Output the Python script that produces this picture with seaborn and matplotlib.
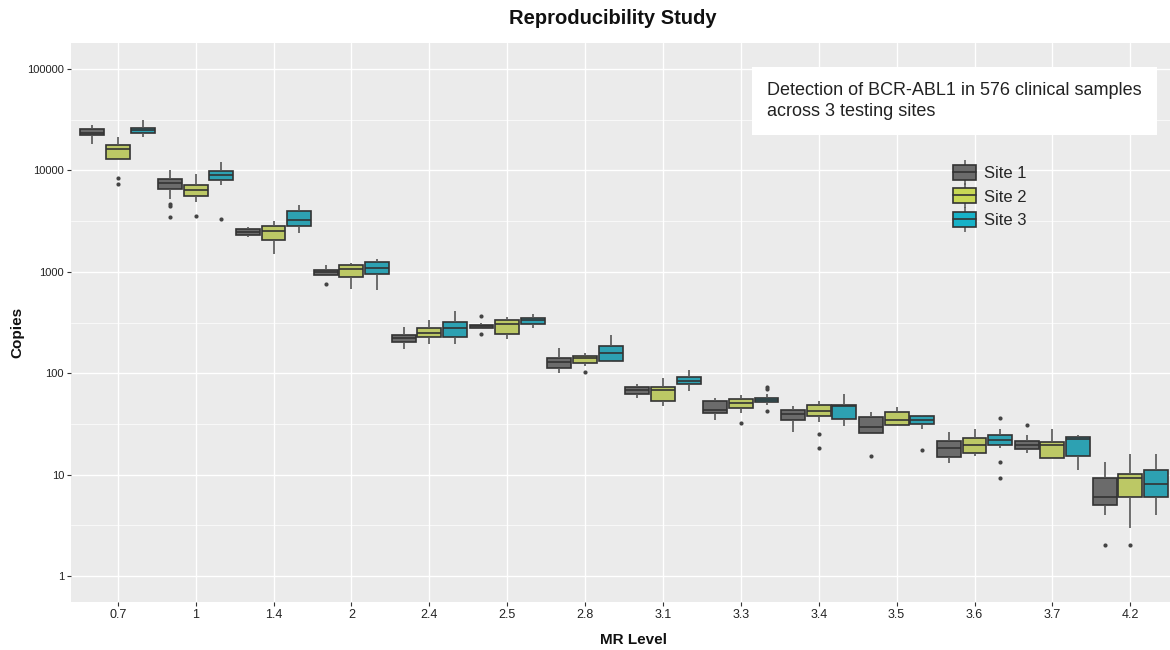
import numpy as np
import pandas as pd
import seaborn as sns
import matplotlib.pyplot as plt
from matplotlib.patches import Patch
from matplotlib.lines import Line2D

# MR levels on the x axis and the three testing sites
mr_levels = ['0.7', '1', '1.4', '2', '2.4', '2.5', '2.8', '3.1', '3.3', '3.4', '3.5', '3.6', '3.7', '4.2']
sites = ['Site 1', 'Site 2', 'Site 3']
site_colors = ['#6b6b6b', '#c8d855', '#17b2c8']

# Box summaries (copies): lower whisker, q1, median, q3, upper whisker
site1_lo  = [18300, 5220, 2220, 920, 175, 270, 101, 56.5, 34.3, 26.5, 25.8, 13.0, 16.4, 4.0]
site1_q1  = [22100, 6590, 2290, 932, 203, 278, 113, 62.3, 40.8, 34.5, 25.8, 15.0, 17.7, 4.97]
site1_med = [23600, 7490, 2490, 998, 220, 291, 128, 67.8, 43.4, 39.3, 29.3, 18.5, 19.8, 5.95]
site1_q3  = [25600, 8310, 2640, 1050, 238, 302, 142, 72.5, 52.8, 43.7, 37.3, 21.3, 21.5, 9.2]
site1_hi  = [28100, 10100, 2790, 1180, 287, 310, 179, 79.0, 57.4, 47.1, 41.8, 26.3, 24.4, 13.2]

site2_lo  = [13000, 4910, 1500, 679, 195, 215, 117, 47.4, 40.2, 32.8, 30.6, 15.3, 14.4, 3.0]
site2_q1  = [13000, 5580, 2040, 891, 229, 245, 126, 53.6, 45.1, 37.6, 30.6, 16.4, 14.7, 5.95]
site2_med = [16300, 6440, 2500, 1060, 248, 307, 142, 67.8, 51.3, 42.8, 34.8, 19.6, 19.5, 9.2]
site2_q3  = [17600, 7160, 2850, 1160, 282, 334, 147, 73.7, 56.1, 48.5, 41.1, 23.0, 21.0, 10.1]
site2_hi  = [21100, 9270, 3140, 1210, 331, 357, 159, 88.9, 61.4, 53.2, 46.8, 28.0, 28.4, 16.1]

site3_lo  = [21400, 7100, 2420, 668, 192, 282, 128, 66.7, 48.2, 29.9, 28.4, 18.5, 11.0, 4.0]
site3_q1  = [23300, 8070, 2850, 946, 230, 309, 132, 77.6, 52.0, 35.1, 31.8, 19.5, 15.4, 5.95]
site3_med = [25100, 9060, 3270, 1100, 276, 334, 159, 84.4, 54.8, 47.0, 34.3, 21.8, 22.3, 8.05]
site3_q3  = [26200, 9770, 4000, 1260, 321, 352, 185, 91.6, 57.4, 48.5, 37.6, 24.6, 23.3, 11.0]
site3_hi  = [31500, 12100, 4520, 1350, 408, 385, 239, 108, 61.8, 62.3, 39.0, 28.0, 24.8, 16.1]

# Outlying samples
out_mr   = ['0.7', '0.7', '1', '1', '1', '1', '1', '2', '2.5', '2.5', '2.8', '3.3', '3.3', '3.3', '3.3',
            '3.4', '3.4', '3.5', '3.5', '3.6', '3.6', '3.6', '3.7', '4.2', '4.2']
out_site = ['Site 2', 'Site 2', 'Site 1', 'Site 1', 'Site 1', 'Site 2', 'Site 3', 'Site 1', 'Site 1', 'Site 1',
            'Site 2', 'Site 2', 'Site 3', 'Site 3', 'Site 3', 'Site 2', 'Site 2', 'Site 1', 'Site 3', 'Site 3',
            'Site 3', 'Site 3', 'Site 1', 'Site 1', 'Site 2']
out_val  = [8500, 7330, 4660, 4450, 3470, 3550, 3340, 760, 368, 243, 103, 32.6, 73.7, 69.3, 42.4,
            25.4, 18.5, 15.1, 17.5, 36.5, 13.2, 9.2, 31.1, 2.02, 2.02]

y_ticks = [1, 10, 100, 1000, 10000, 100000]

sns.set_theme(style='darkgrid', rc={
    'axes.facecolor': '#EBEBEB',
    'grid.color': 'white',
    'grid.linewidth': 1.0,
})
plt.rcParams['font.family'] = ['Liberation Sans', 'DejaVu Sans']

# Long table: each box is built from its five summary numbers
stats = {
    'Site 1': [site1_lo, site1_q1, site1_med, site1_q3, site1_hi],
    'Site 2': [site2_lo, site2_q1, site2_med, site2_q3, site2_hi],
    'Site 3': [site3_lo, site3_q1, site3_med, site3_q3, site3_hi],
}
rows = []
for site in sites:
    for k, mr in enumerate(mr_levels):
        for col in stats[site]:
            rows.append({'MR Level': mr, 'Site': site, 'Copies': col[k]})
df = pd.DataFrame(rows)

fig = plt.figure(figsize=(11.7, 6.5), dpi=100)
ax = fig.add_axes([71 / 1170, 1 - 602 / 650, (1170 - 71) / 1170, (602 - 43) / 650])

box_width = 0.99
sns.boxplot(data=df, x='MR Level', y='Copies', hue='Site', order=mr_levels, hue_order=sites,
            palette=site_colors, width=box_width, gap=0.07, whis=np.inf, showfliers=False,
            log_scale=True, linecolor='#333333', linewidth=1.2, legend=False, ax=ax,
            whiskerprops={'color': '#555555'}, capprops={'visible': False},
            medianprops={'color': '#333333'})

# Outlier dots, dodged like the boxes
step = box_width / len(sites)
out_x = [mr_levels.index(m) + (sites.index(s) - 1) * step for m, s in zip(out_mr, out_site)]
ax.scatter(out_x, out_val, s=9, color='#444444', zorder=3, linewidths=0)

ax.set_yticks(y_ticks, [str(t) for t in y_ticks])
ax.set_yticks([10 ** (k + 0.5) for k in range(-1, 6)], minor=True)
ax.yaxis.set_minor_formatter(plt.NullFormatter())
# limits after ticks, otherwise set_yticks widens them
ax.set_xlim(-0.6, len(mr_levels) - 1 + 0.51)
ax.set_ylim(10 ** -0.256, 10 ** 5.256)
ax.grid(True, which='major', color='white', linewidth=1.0)
ax.grid(True, which='minor', axis='y', color='white', linewidth=0.5)
ax.xaxis.grid(True)
ax.set_axisbelow(True)
for s in ax.spines.values():
    s.set_visible(False)

ax.tick_params(axis='both', which='major', length=3, width=0.8, color='#333333',
               bottom=True, left=True, pad=2, labelcolor='#222222')
ax.tick_params(axis='y', which='minor', length=0, left=False)
ax.tick_params(axis='y', labelsize=8)
ax.tick_params(axis='x', labelsize=9)

ax.set_xlabel('MR Level', fontsize=11, fontweight='bold', color='#111111', va='top')
ax.set_ylabel('Copies', fontsize=11, fontweight='bold', color='#111111')
ax.xaxis.set_label_coords(0.512, -0.0555)
ax.yaxis.set_label_coords(-0.0428, 0.483)

fig.text(613 / 1170, 1 - 18 / 650, 'Reproducibility Study', ha='center', va='center',
         fontsize=14.5, fontweight='bold', color='#111111')

# Note box in the upper right
fig.text(767 / 1170, 1 - 101 / 650, 'Detection of BCR-ABL1 in 576 clinical samples\nacross 3 testing sites',
         ha='left', va='center', fontsize=13, color='#222222', linespacing=1.3,
         bbox=dict(boxstyle='square,pad=0.85', fc='white', ec='none'))

# Legend keys drawn like small boxplots
handles = []
for c in site_colors:
    whisker = Line2D([], [], color='#555555', marker='|', linestyle='none', markersize=18, markeredgewidth=1.1)
    box = Patch(facecolor=c, edgecolor='#333333', linewidth=1.2)
    median = Line2D([], [], color='#333333', linewidth=1.2)
    handles.append((whisker, box, median))
fig.legend(handles, sites, loc='upper left', bbox_to_anchor=(953 / 1170, 1 - 165 / 650),
           frameon=False, fontsize=12, handlelength=1.4, handleheight=1.0, labelspacing=0.44,
           handletextpad=0.44, borderpad=0, borderaxespad=0)

plt.savefig('out.png', dpi=100)
plt.close()
